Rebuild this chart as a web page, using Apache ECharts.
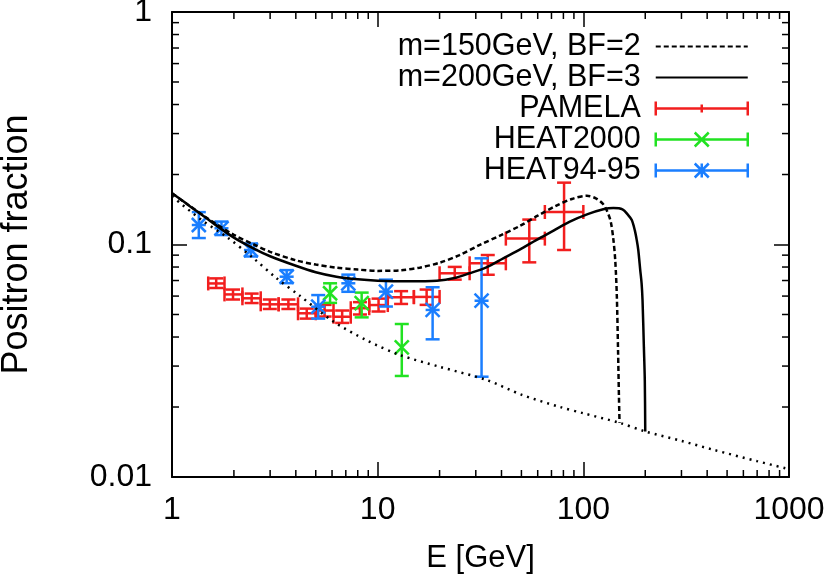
<!DOCTYPE html>
<html>
<head>
<meta charset="utf-8">
<script src="https://cdn.jsdelivr.net/npm/echarts@6/dist/echarts.min.js"></script>
<style>
html, body { margin: 0; padding: 0; background: #fff; }
#chart { width: 830px; height: 579px; }
</style>
</head>
<body>
<div id="chart"></div>
<script>
// model curves: [E (GeV), positron fraction]
var bgCurve = [
    [1, 0.161], [1.4, 0.127], [1.84, 0.108], [2.5, 0.087], [3.2, 0.072], [4.2, 0.06],
    [6.1, 0.0466], [8.8, 0.0388], [12.8, 0.0335], [20, 0.0298], [34, 0.0261], [50, 0.0226],
    [77, 0.0200], [100, 0.0188], [150, 0.0171], [200, 0.0157], [300, 0.0143], [428, 0.0131],
    [700, 0.0117], [1000, 0.0108]
];
var m150Curve = [
    [1, 0.166], [1.2, 0.148], [1.5, 0.129], [2, 0.11], [2.5, 0.1], [3, 0.093], [4, 0.0855],
    [5, 0.082], [6.3, 0.0795], [8, 0.078], [10, 0.077], [13, 0.0775], [16, 0.0795], [20, 0.0835],
    [25, 0.09], [31.4, 0.0996], [40, 0.11], [49, 0.12], [60, 0.133], [74, 0.147], [88, 0.157],
    [104, 0.162], [115, 0.158], [125, 0.149], [131, 0.138], [136, 0.125], [140, 0.105],
    [143, 0.085], [145.5, 0.06], [147.5, 0.035], [149, 0.022], [150, 0.0171]
];
var m200Curve = [
    [1, 0.166], [1.2, 0.148], [1.5, 0.128], [2, 0.107], [2.5, 0.096], [3, 0.089], [4, 0.081],
    [5, 0.076], [6.3, 0.0727], [8, 0.0708], [10, 0.0699], [14, 0.0695], [19.4, 0.0699],
    [24, 0.072], [28, 0.0752], [34, 0.08], [40.8, 0.0872], [50, 0.096], [59, 0.1045],
    [72, 0.115], [86, 0.1254], [105, 0.135], [125, 0.1417], [140, 0.1435], [155, 0.1417],
    [165, 0.134], [172, 0.1274], [178, 0.115], [182, 0.104], [185, 0.0947], [189, 0.078],
    [192, 0.068], [194, 0.0577], [197, 0.036], [199, 0.026], [200, 0.0157]
];

// data points: [E, fraction, E low, E high, fraction low, fraction high]
var pamela = [
    [1.64, 0.068, 1.5, 1.8, 0.065, 0.0715],
    [1.98, 0.061, 1.8, 2.2, 0.058, 0.064],
    [2.44, 0.0587, 2.2, 2.7, 0.056, 0.0615],
    [2.99, 0.0553, 2.7, 3.3, 0.0528, 0.058],
    [3.68, 0.0553, 3.3, 4.1, 0.0528, 0.058],
    [4.52, 0.0506, 4.1, 5.0, 0.048, 0.053],
    [5.52, 0.052, 5.0, 6.1, 0.049, 0.055],
    [6.72, 0.0489, 6.1, 7.4, 0.046, 0.052],
    [8.2, 0.0532, 7.4, 9.1, 0.050, 0.0565],
    [10.1, 0.0549, 9.1, 11.2, 0.0515, 0.0585],
    [13.0, 0.0593, 11.2, 15.0, 0.0555, 0.063],
    [17.3, 0.0595, 15.0, 20.0, 0.055, 0.064],
    [23.7, 0.0752, 20.0, 28.0, 0.0706, 0.0801],
    [34.3, 0.083, 28.0, 42.0, 0.0741, 0.0901],
    [54.6, 0.106, 42.0, 65.0, 0.0838, 0.128],
    [80.6, 0.138, 65.0, 100.0, 0.0947, 0.1845]
];
var heat2000 = [
    [5.87, 0.0617, 5.87, 5.87, 0.0561, 0.0681],
    [8.36, 0.0559, 8.36, 8.36, 0.0486, 0.0621],
    [13.1, 0.0361, 13.1, 13.1, 0.0272, 0.0455]
];
var heat9495 = [
    [1.35, 0.1213, 1.35, 1.35, 0.1066, 0.1378],
    [1.74, 0.1174, 1.74, 1.74, 0.1098, 0.1255],
    [2.42, 0.0947, 2.42, 2.42, 0.0888, 0.101],
    [3.61, 0.0727, 3.61, 3.61, 0.0682, 0.0776],
    [5.14, 0.054, 5.14, 5.14, 0.048, 0.0606],
    [7.2, 0.0681, 7.2, 7.2, 0.0626, 0.0742],
    [10.97, 0.0627, 10.97, 10.97, 0.0541, 0.0706],
    [18.5, 0.0523, 18.5, 18.5, 0.0391, 0.0655],
    [32.0, 0.0573, 32.0, 32.0, 0.027, 0.0872]
];

// minor tick values of the log axes
var minorX = [2, 3, 4, 5, 6, 7, 8, 9, 20, 30, 40, 50, 60, 70, 80, 90, 200, 300, 400, 500, 600, 700, 800, 900];
var minorY = [0.02, 0.03, 0.04, 0.05, 0.06, 0.07, 0.08, 0.09, 0.2, 0.3, 0.4, 0.5, 0.6, 0.7, 0.8, 0.9];

var RED = '#f21e1e', GREEN = '#22e222', BLUE = '#1a7eff';
var FONT = 'Liberation Sans';

var dom = document.getElementById('chart');
var myChart = echarts.init(dom);

function seg(x1, y1, x2, y2, color, w) {
    return { type: 'line', shape: { x1: x1, y1: y1, x2: x2, y2: y2 },
             style: { stroke: color, lineWidth: w || 2.5 } };
}

function errorRender(color, marker) {
    return function (params, api) {
        var c = api.coord([api.value(0), api.value(1)]);
        var lo = api.coord([api.value(0), api.value(4)]);
        var hi = api.coord([api.value(0), api.value(5)]);
        var cap = 7;
        var kids = [
            seg(c[0], lo[1], c[0], hi[1], color),
            seg(c[0] - cap, lo[1], c[0] + cap, lo[1], color),
            seg(c[0] - cap, hi[1], c[0] + cap, hi[1], color)
        ];
        if (marker === 'xbar') {
            var l = api.coord([api.value(2), api.value(1)]);
            var r = api.coord([api.value(3), api.value(1)]);
            kids.push(seg(l[0], c[1], r[0], c[1], color));
            kids.push(seg(l[0], c[1] - cap, l[0], c[1] + cap, color));
            kids.push(seg(r[0], c[1] - cap, r[0], c[1] + cap, color));
        }
        var s = 7;
        if (marker === 'x' || marker === 'star') {
            kids.push(seg(c[0] - s, c[1] - s, c[0] + s, c[1] + s, color));
            kids.push(seg(c[0] - s, c[1] + s, c[0] + s, c[1] - s, color));
        }
        if (marker === 'star') {
            kids.push(seg(c[0] - s, c[1], c[0] + s, c[1], color));
        }
        return { type: 'group', children: kids };
    };
}

function tickRender(dir) {
    return function (params, api) {
        var v = api.value(0);
        var a, b, kids;
        if (dir === 'x') {
            a = api.coord([v, 0.01]);
            b = api.coord([v, 1]);
            kids = [seg(a[0], a[1], a[0], a[1] - 7, '#000', 1.5), seg(b[0], b[1], b[0], b[1] + 7, '#000', 1.5)];
        } else {
            v = api.value(1);
            a = api.coord([1, v]);
            b = api.coord([1000, v]);
            kids = [seg(a[0], a[1], a[0] + 7, a[1], '#000', 1.5), seg(b[0], b[1], b[0] - 7, b[1], '#000', 1.5)];
        }
        return { type: 'group', children: kids };
    };
}

var iconPamela = 'path://M0,0V14M0,7H92M92,0V14M46,3V11';
var iconHeat2000 = 'path://M0,0V14M0,7H92M92,0V14M39,0L53,14M39,14L53,0';
var iconHeat9495 = 'path://M0,0V14M0,7H92M92,0V14M39,0L53,14M39,14L53,0M46,0V14';
var noDot = { color: 'rgba(0,0,0,0)', borderWidth: 0, opacity: 0 };

function fmt(v) { return String(Math.round(v * 1000) / 1000); }

var axisLine = { show: true, lineStyle: { color: '#000', width: 2 } };
var majorTick = { show: true, inside: true, length: 15, lineStyle: { color: '#000', width: 1.5 } };

option = {
    animation: false,
    backgroundColor: '#fff',
    grid: { left: 172, right: 41, top: 12, bottom: 102, containLabel: false, outerBoundsMode: 'none' },
    legend: {
        orient: 'vertical',
        right: 76,
        top: 26,
        align: 'right',
        itemWidth: 92,
        itemHeight: 14,
        itemGap: 0,
        selectedMode: false,
        textStyle: { fontSize: 30.5, fontFamily: FONT, color: '#000', lineHeight: 30, padding: [0, 10, 0, 0] },
        data: [
            { name: 'm=150GeV, BF=2', itemStyle: noDot },
            { name: 'm=200GeV, BF=3', itemStyle: noDot },
            { name: 'PAMELA', icon: iconPamela, itemStyle: { color: 'rgba(0,0,0,0)', borderColor: RED, borderWidth: 2.5 } },
            { name: 'HEAT2000', icon: iconHeat2000, itemStyle: { color: 'rgba(0,0,0,0)', borderColor: GREEN, borderWidth: 2.5 } },
            { name: 'HEAT94-95', icon: iconHeat9495, itemStyle: { color: 'rgba(0,0,0,0)', borderColor: BLUE, borderWidth: 2.5 } }
        ]
    },
    xAxis: [{
        type: 'log', logBase: 10, min: 1, max: 1000, splitNumber: 3,
        name: 'E [GeV]', nameLocation: 'middle', nameGap: 66,
        nameTextStyle: { fontSize: 31, fontFamily: FONT, color: '#000' },
        axisLine: axisLine,
        axisTick: majorTick,
        axisLabel: { fontSize: 32, fontFamily: FONT, color: '#000', margin: 17, formatter: fmt },
        splitLine: { show: false }
    }, {
        type: 'log', logBase: 10, min: 1, max: 1000, splitNumber: 3, position: 'top',
        axisLine: axisLine,
        axisTick: majorTick,
        axisLabel: { show: false },
        splitLine: { show: false }
    }],
    yAxis: [{
        type: 'log', logBase: 10, min: 0.01, max: 1, splitNumber: 2,
        name: 'Positron fraction', nameLocation: 'middle', nameGap: 137,
        nameTextStyle: { fontSize: 36, fontFamily: FONT, color: '#000' },
        axisLine: axisLine,
        axisTick: majorTick,
        axisLabel: { fontSize: 32, fontFamily: FONT, color: '#000', margin: 20, formatter: fmt },
        splitLine: { show: false }
    }, {
        type: 'log', logBase: 10, min: 0.01, max: 1, splitNumber: 2, position: 'right',
        axisLine: axisLine,
        axisTick: majorTick,
        axisLabel: { show: false },
        splitLine: { show: false }
    }],
    series: [
        {
            name: 'background', type: 'line', data: bgCurve, symbol: 'none', smooth: 0.3,
            lineStyle: { color: '#000', width: 2.5, type: [2, 5] }, silent: true
        },
        {
            name: 'm=150GeV, BF=2', type: 'line', data: m150Curve, symbol: 'none', smooth: 0.3,
            itemStyle: { color: '#000' },
            lineStyle: { color: '#000', width: 2.5, type: [5, 3] }
        },
        {
            name: 'm=200GeV, BF=3', type: 'line', data: m200Curve, symbol: 'none', smooth: 0.3,
            itemStyle: { color: '#000' },
            lineStyle: { color: '#000', width: 2.5, type: 'solid' }
        },
        {
            name: 'PAMELA', type: 'custom', data: pamela, itemStyle: { color: RED },
            encode: { x: [0, 2, 3], y: [1, 4, 5] },
            renderItem: errorRender(RED, 'xbar')
        },
        {
            name: 'HEAT2000', type: 'custom', data: heat2000, itemStyle: { color: GREEN },
            encode: { x: [0, 2, 3], y: [1, 4, 5] },
            renderItem: errorRender(GREEN, 'x')
        },
        {
            name: 'HEAT94-95', type: 'custom', data: heat9495, itemStyle: { color: BLUE },
            encode: { x: [0, 2, 3], y: [1, 4, 5] },
            renderItem: errorRender(BLUE, 'star')
        },
        {
            name: 'xMinor', type: 'custom', silent: true,
            data: minorX.map(function (v) { return [v, 0.01]; }),
            encode: { x: 0, y: 1 },
            renderItem: tickRender('x')
        },
        {
            name: 'yMinor', type: 'custom', silent: true,
            data: minorY.map(function (v) { return [1, v]; }),
            encode: { x: 0, y: 1 },
            renderItem: tickRender('y')
        }
    ]
};

if (option && typeof option === "object") {
    myChart.setOption(option, true);
}
</script>
</body>
</html>
